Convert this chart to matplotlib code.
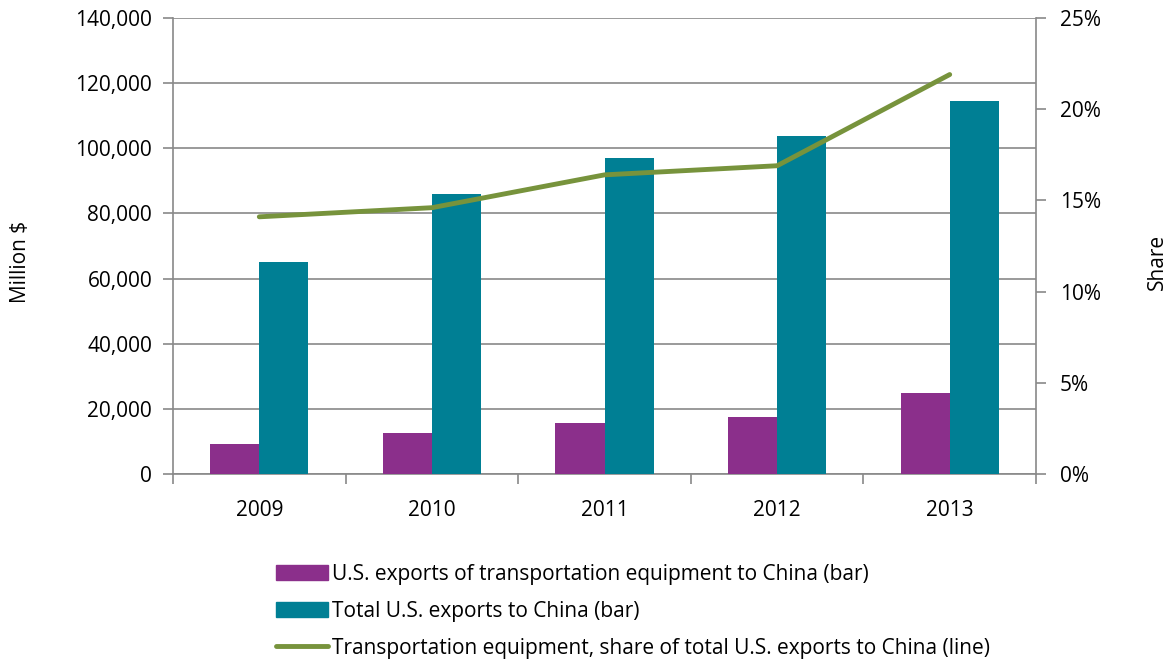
import matplotlib.pyplot as plt
from matplotlib.patches import Patch
from matplotlib.lines import Line2D
from matplotlib.ticker import FuncFormatter
import numpy as np

years = ["2009", "2010", "2011", "2012", "2013"]
transport_exports = [9200, 12600, 15700, 17500, 24900]
total_exports = [65100, 86000, 97000, 103800, 114500]
transport_share = [14.1, 14.6, 16.4, 16.9, 21.9]

purple = "#8B2F8B"
teal = "#007F94"
olive = "#77933C"
grid_c = "#898989"

plt.rcParams['font.family'] = ['Open Sans', 'DejaVu Sans']
fs = 15

fig = plt.figure(figsize=(11.75, 6.64), dpi=100)
ax = fig.add_axes([173 / 1175, 190 / 664, 863 / 1175, 456 / 664])

x = np.arange(len(years))
w = 0.285
ax.bar(x - w / 2, transport_exports, w, color=purple, zorder=3)
ax.bar(x + w / 2, total_exports, w, color=teal, zorder=3)

ax.set_xlim(-0.5, len(years) - 0.5)
ax.set_ylim(0, 140000)
ax.set_yticks(np.arange(0, 140001, 20000))
ax.yaxis.set_major_formatter(FuncFormatter(lambda v, p: f"{int(v):,}"))
ax.set_xticks(x)
ax.set_xticklabels(years)
ax.set_xticks(np.arange(-0.5, len(years), 1), minor=True)
ax.tick_params(axis='x', which='major', length=0, pad=19, labelsize=fs)
ax.tick_params(axis='x', which='minor', length=7, color=grid_c, width=1.2)
ax.tick_params(axis='y', length=7, color=grid_c, width=1.2, labelsize=fs, pad=8)
ax.grid(axis='y', color=grid_c, linewidth=1.2, zorder=0)

for s in ['left', 'right', 'bottom']:
    ax.spines[s].set_color(grid_c)
    ax.spines[s].set_linewidth(1.2)
ax.spines['top'].set_visible(False)

ax2 = ax.twinx()
ax2.plot(x, transport_share, color=olive, linewidth=3.5, solid_capstyle='round', zorder=4)
ax2.set_ylim(0, 25)
ax2.set_yticks(np.arange(0, 26, 5))
ax2.yaxis.set_major_formatter(FuncFormatter(lambda v, p: f"{int(v)}%"))
ax2.tick_params(axis='y', length=7, color=grid_c, width=1.2, labelsize=fs, pad=10)
for s in ['left', 'right', 'bottom', 'top']:
    ax2.spines[s].set_visible(False)

fig.text(20 / 1175, 1 - 262 / 664, "Million $", rotation=90, ha='center', va='center', fontsize=fs)
fig.text(1157 / 1175, 1 - 262 / 664, "Share", rotation=90, ha='center', va='center', fontsize=fs)

handles = [
    Patch(color=purple),
    Patch(color=teal),
    Line2D([0], [0], color=olive, linewidth=3.5, solid_capstyle='round'),
]
labels = [
    "U.S. exports of transportation equipment to China (bar)",
    "Total U.S. exports to China (bar)",
    "Transportation equipment, share of total U.S. exports to China (line)",
]
fig.legend(handles, labels, loc='upper left', bbox_to_anchor=(257 / 1175, 1 - 545 / 664),
           frameon=False, fontsize=fs, handlelength=2.5, handleheight=0.75,
           handletextpad=0.2, labelspacing=0.77)

fig.savefig("out.png", dpi=100)
